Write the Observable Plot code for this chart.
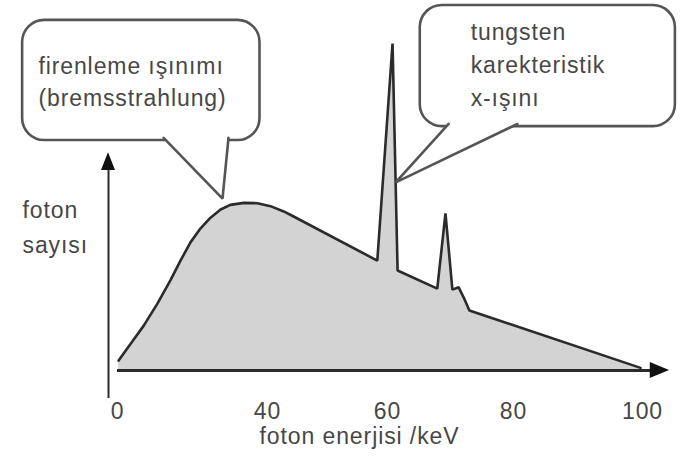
<!DOCTYPE html>
<html><head><meta charset="utf-8">
<script src="https://cdn.jsdelivr.net/npm/d3@7"></script>
<script src="https://cdn.jsdelivr.net/npm/@observablehq/plot@0.6"></script>
<style>body{margin:0;background:#fff;}</style>
</head><body><div id="chart"></div>
<script>
// Spectrum (photon energy in keV, relative photon count)
const energy  = [0.3, 3.5, 7.0, 10.6, 14.1, 16.8, 19.5, 22.1, 24.8, 27.5, 30.1, 33.7, 37.3, 40.5, 42.7, 43.8, 58.3, 60.8, 61.6, 67.9, 69.2, 70.3, 71.3, 72.1, 73.0, 99.7];
const photons = [3.0, 8.1, 13.6, 20.2, 27.3, 33.3, 38.9, 43.0, 46.3, 48.8, 50.2, 50.8, 50.7, 49.8, 48.2, 47.2, 33.3, 99.1, 30.3, 24.8, 47.6, 24.5, 25.2, 22.1, 18.2, 0.8];

// Axis ticks (the source drawing spaces them unevenly)
const xTicks = [0, 40, 60, 80, 100];
const xTickPixels = [117, 267, 387, 513, 642];

// Texts
const xLabel = "foton enerjisi /keV";
const yLabel = "foton\nsayısı";
const calloutTexts = ["firenleme ışınımı\n(bremsstrahlung)", "tungsten\nkarekteristik\nx-ışını"];

// Callout boxes and their pointers (in keV / count units)
const calloutX1 = [-25.3, 65.2];
const calloutX2 = [38.0, 105.1];
const calloutY1 = [69.7, 73.9];
const calloutY2 = [106.1, 110.6];
const calloutTextX = [-21.1, 73.2];
const calloutTextY = [88.2, 93.3];
const tailX = [[12.3, 28.0, 29.6], [69.7, 61.3, 80.6]];
const tailY = [[70.5, 52.1, 70.5], [74.7, 57.0, 74.7]];

// Axis arrows extents
const xAxisEnd = 101.5, xArrowBase = 101.2, xArrowTip = 104.2, xArrowHalf = 2.4;
const yAxisX = -2.4, yAxisBottom = -8.5, yAxisEnd = 61, yArrowBase = 60.6, yArrowTip = 66.0, yArrowHalf = 1.87;

const spectrum = energy.map((e, i) => ({energy: e, count: photons[i]}));
const callouts = calloutTexts.map((t, i) => ({text: t, x1: calloutX1[i], x2: calloutX2[i], y1: calloutY1[i], y2: calloutY2[i], tx: calloutTextX[i], ty: calloutTextY[i]}));
const tails = tailX.flatMap((xs, k) => xs.map((x, j) => ({id: k, x, y: tailY[k][j]})));
const xHead = [{x: xArrowBase, a: -xArrowHalf, b: xArrowHalf}, {x: xArrowTip, a: 0, b: 0}];
const yHead = [{y: yArrowBase, a: yAxisX - yArrowHalf, b: yAxisX + yArrowHalf}, {y: yArrowTip, a: yAxisX, b: yAxisX}];

const ink = "#2b2b2b";
const chart = Plot.plot({
  width: 680,
  height: 462,
  marginLeft: 117,
  marginRight: 79,
  marginTop: 85,
  marginBottom: 92,
  style: {fontFamily: "'Liberation Sans', Arial, sans-serif", fontSize: "23px", letterSpacing: "0.9px", color: "#474747", background: "#fff"},
  x: {type: "linear", domain: xTicks, range: xTickPixels, axis: "bottom", ticks: xTicks, tickSize: 0, tickPadding: 32, label: null},
  y: {domain: [0, 100], range: [370, 40], axis: null},
  marks: [
    Plot.areaY(spectrum, {x: "energy", y: "count", fill: "#d3d3d3"}),
    Plot.line(spectrum, {x: "energy", y: "count", stroke: ink, strokeWidth: 2.6, strokeLinejoin: "miter"}),
    Plot.ruleY([0], {x1: 0, x2: xAxisEnd, stroke: ink, strokeWidth: 3}),
    Plot.areaY(xHead, {x: "x", y1: "a", y2: "b", fill: "#111"}),
    Plot.ruleX([yAxisX], {y1: yAxisBottom, y2: yAxisEnd, stroke: ink, strokeWidth: 2}),
    Plot.areaX(yHead, {y: "y", x1: "a", x2: "b", fill: "#111"}),
    Plot.rect(callouts, {x1: "x1", x2: "x2", y1: "y1", y2: "y2", fill: "white", stroke: "#555", strokeWidth: 2.6, rx: 22}),
    Plot.line(tails, {x: "x", y: "y", z: "id", fill: "white", stroke: "#555", strokeWidth: 2.6, strokeLinejoin: "miter"}),
    Plot.text(callouts, {x: "tx", y: "ty", text: "text", textAnchor: "start", lineHeight: 1.43}),
    Plot.text([yLabel], {frameAnchor: "left", dx: -95, dy: -4, textAnchor: "start", lineHeight: 1.52}),
    Plot.text([xLabel], {frameAnchor: "bottom", dy: 73, letterSpacing: "0.3px"})
  ]
});
document.getElementById("chart").appendChild(chart);
</script>
</body></html>
